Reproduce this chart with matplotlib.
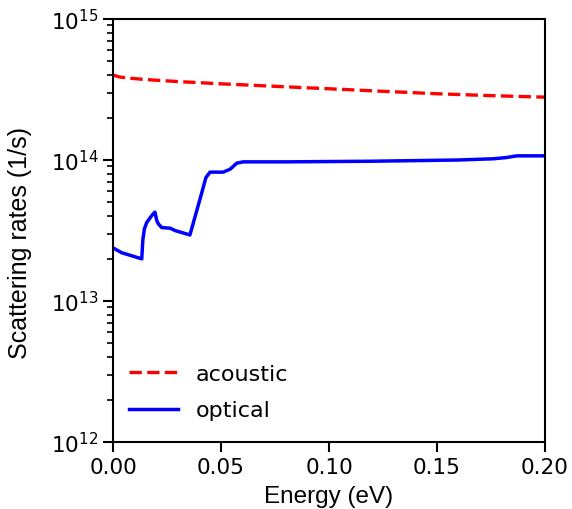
import numpy as np
import matplotlib.pyplot as plt

# energy grid (eV) and scattering rates (1/s)
energy_ac = [0.0, 0.003, 0.008, 0.015, 0.03, 0.05, 0.075, 0.1, 0.125, 0.15, 0.175, 0.2]
rate_ac = [4.0e14, 3.88e14, 3.80e14, 3.72e14, 3.60e14, 3.47e14, 3.33e14, 3.20e14,
           3.07e14, 2.95e14, 2.86e14, 2.79e14]

energy_op = [0.0, 0.004, 0.0133, 0.0138, 0.0145, 0.0156, 0.018, 0.0194, 0.0203, 0.021,
             0.0225, 0.0265, 0.0287, 0.0356, 0.0403, 0.043, 0.0449, 0.051, 0.0542,
             0.0573, 0.0603, 0.08, 0.12, 0.16, 0.176, 0.182, 0.187, 0.2]
rate_op = [2.38e13, 2.2e13, 1.99e13, 2.7e13, 3.24e13, 3.6e13, 4.05e13, 4.27e13, 3.7e13,
           3.52e13, 3.32e13, 3.28e13, 3.16e13, 2.94e13, 5.3e13, 7.5e13, 8.2e13, 8.2e13,
           8.6e13, 9.5e13, 9.7e13, 9.7e13, 9.8e13, 1.0e14, 1.02e14, 1.04e14, 1.07e14, 1.07e14]

fig = plt.figure(figsize=(5.72, 5.10), dpi=100)
ax = fig.add_axes([0.1976, 0.1314, 0.7552, 0.8294])

ax.plot(energy_ac, rate_ac, 'r--', linewidth=2.4, label='acoustic')
ax.plot(energy_op, rate_op, 'b-', linewidth=2.5, label='optical')

ax.set_yscale('log')
ax.set_xlim(0, 0.2)
ax.set_ylim(1e12, 1e15)
ax.set_xticks([0.0, 0.05, 0.1, 0.15, 0.2])
ax.set_xticklabels(['0.00', '0.05', '0.10', '0.15', '0.20'])
ax.tick_params(axis='both', which='major', labelsize=15.5, length=7, width=1.5)
ax.tick_params(axis='y', which='minor', length=4, width=1.2)
for s in ax.spines.values():
    s.set_linewidth(1.5)

ax.set_xlabel('Energy (eV)', fontsize=17.5, family='Liberation Sans', labelpad=6)
ax.set_ylabel('Scattering rates (1/s)', fontsize=18, family='Liberation Sans')
ax.yaxis.set_label_coords(-0.187, 0.472)
ax.legend(loc='lower left', frameon=False, fontsize=16, bbox_to_anchor=(-0.01, 0.004),
          handlelength=2.2, labelspacing=0.73)

fig.savefig('out.png', dpi=100)
